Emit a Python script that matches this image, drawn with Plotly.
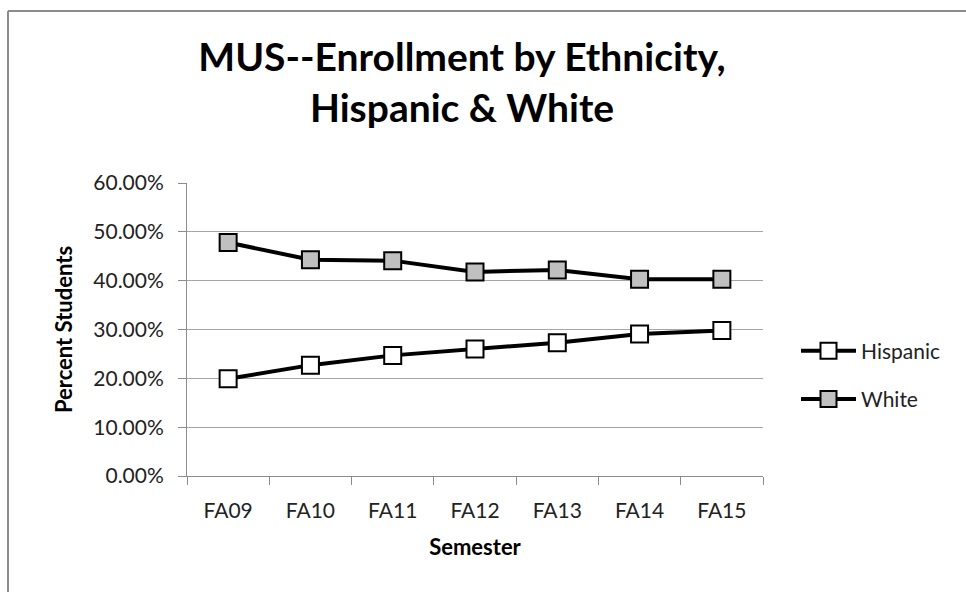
import plotly.graph_objects as go

semesters = ["FA09", "FA10", "FA11", "FA12", "FA13", "FA14", "FA15"]
hispanic = [0.199, 0.227, 0.247, 0.260, 0.273, 0.291, 0.298]
white = [0.478, 0.443, 0.441, 0.418, 0.422, 0.403, 0.403]
y_ticks = [0, 0.1, 0.2, 0.3, 0.4, 0.5, 0.6]

FONT = "Lato, Open Sans, sans-serif"

# plot-area geometry in pixels
L, R, T, B = 187, 203, 183, 116
W, H = 966, 592
pw, ph = W - L - R, H - T - B

def px_x(px):
    return (px - L) / pw

def px_y(py):
    return (H - B - py) / ph

fig = go.Figure()
fig.add_trace(go.Scatter(
    x=semesters, y=hispanic, name="Hispanic", mode="lines+markers",
    legendgroup="hispanic",
    line=dict(color="black", width=4),
    marker=dict(symbol="square", size=17, color="white", line=dict(color="black", width=2)),
))
fig.add_trace(go.Scatter(
    x=semesters, y=white, name="White", mode="lines+markers",
    legendgroup="white",
    line=dict(color="black", width=4),
    marker=dict(symbol="square", size=17, color="#c0c0c0", line=dict(color="black", width=2)),
))

fig.update_layout(
    width=W, height=H,
    margin=dict(l=L, r=R, t=T, b=B),
    paper_bgcolor="white", plot_bgcolor="white",
    font=dict(family=FONT, color="#222222", size=21),
    title=dict(
        text="MUS--Enrollment by Ethnicity,<br>Hispanic & White",
        x=462 / W, xanchor="center",
        y=1 - 71 / H, yanchor="top",
        font=dict(family=FONT, size=39, color="black", weight="bold"),
    ),
    showlegend=True,
    legend=dict(
        x=px_x(796), xanchor="left", y=px_y(375), yanchor="middle",
        font=dict(size=21, color="#222222"), itemwidth=55,
        tracegroupgap=18, bgcolor="rgba(0,0,0,0)",
    ),
    xaxis=dict(
        type="category", tickson="boundaries",
        ticks="outside", ticklen=8, tickcolor="#8c8c8c",
        showline=True, linecolor="#8c8c8c", linewidth=1,
        showgrid=False, tickfont=dict(size=21, color="#222222"),
        ticklabelstandoff=16,
        title=dict(text="Semester", font=dict(size=22, color="black", weight="bold"), standoff=18),
        range=[-0.5, 6.5], fixedrange=True,
    ),
    yaxis=dict(
        range=[0, 0.6], tickvals=y_ticks, tickformat=".2%",
        ticks="outside", ticklen=8, tickcolor="#8c8c8c",
        showline=True, linecolor="#8c8c8c", linewidth=1,
        showgrid=True, gridcolor="#a6a6a6", gridwidth=1,
        zeroline=False, tickfont=dict(size=21, color="#222222"),
        ticklabelstandoff=10,
        title=dict(text="Percent Students", font=dict(size=22, color="black", weight="bold"), standoff=14),
        fixedrange=True,
    ),
    shapes=[
        dict(type="line", xref="paper", yref="paper",
             x0=px_x(8), x1=px_x(980), y0=px_y(11), y1=px_y(11),
             line=dict(color="#8c8c8c", width=2)),
        dict(type="line", xref="paper", yref="paper",
             x0=px_x(8), x1=px_x(8), y0=px_y(11), y1=px_y(600),
             line=dict(color="#8c8c8c", width=2)),
    ],
)

fig.write_html("out.html")
